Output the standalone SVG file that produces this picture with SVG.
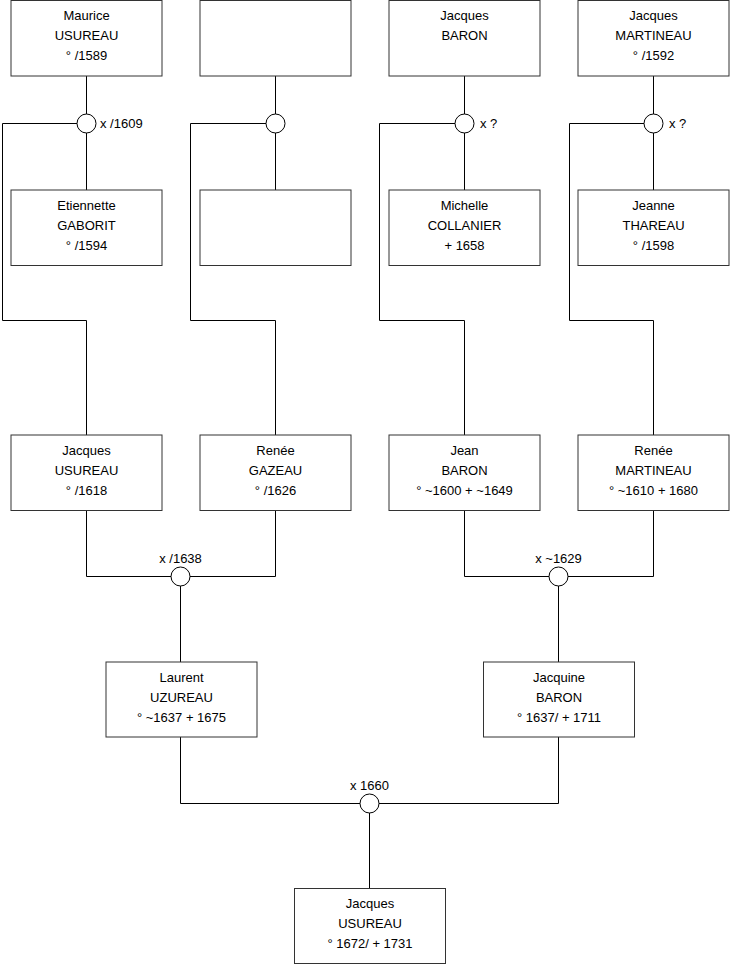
<svg xmlns="http://www.w3.org/2000/svg" width="740" height="975" viewBox="0 0 740 975">
<style>
.box{fill:#fff;stroke:#333;stroke-width:1}
.c{fill:#fff;stroke:#000;stroke-width:1}
.ln{fill:none;stroke:#000;stroke-width:1}
text{font-family:"Liberation Sans",Arial,sans-serif;font-size:13px;fill:#000}
.m{text-anchor:middle}
</style>
<rect width="740" height="975" fill="#fff"/>
<g id="connectors">
<path class="ln" d="M86.5 76V190M2.5 123.5H77M2.5 123.5V320.5H86.5V435"/>
<path class="ln" d="M275.5 76V190M190.5 123.5H266M190.5 123.5V320.5H275.5V435"/>
<path class="ln" d="M464.5 76V190M379.5 123.5H455M379.5 123.5V320.5H464.5V435"/>
<path class="ln" d="M653.5 76V190M569.5 123.5H644M569.5 123.5V320.5H653.5V435"/>
<path class="ln" d="M86.5 510V576.5H275.5V510M180.5 576.5V662"/>
<path class="ln" d="M464.5 510V576.5H653.5V510M558.5 576.5V662"/>
<path class="ln" d="M180.5 737V803.5H558.5V737M369.5 803.5V888"/>
</g>
<g id="u1"><circle class="c" cx="86.5" cy="123.5" r="9.5"/><text x="100" y="128">x /1609</text></g>
<g id="u2"><circle class="c" cx="275.5" cy="123.5" r="9.5"/></g>
<g id="u3"><circle class="c" cx="464.5" cy="123.5" r="9.5"/><text x="480" y="128">x ?</text></g>
<g id="u4"><circle class="c" cx="653.5" cy="123.5" r="9.5"/><text x="669" y="128">x ?</text></g>
<g id="u5"><circle class="c" cx="180.5" cy="576.5" r="9.5"/><text class="m" x="180.5" y="563">x /1638</text></g>
<g id="u6"><circle class="c" cx="558.5" cy="576.5" r="9.5"/><text class="m" x="558.5" y="563">x ~1629</text></g>
<g id="u7"><circle class="c" cx="369.5" cy="803.5" r="9.5"/><text class="m" x="369.5" y="790">x 1660</text></g>
<g id="p1"><rect class="box" x="11" y="0.5" width="151" height="75.5"/><text class="m" x="86.5" y="20">Maurice</text><text class="m" x="86.5" y="40">USUREAU</text><text class="m" x="86.5" y="60">° /1589</text></g>
<g id="p2"><rect class="box" x="200" y="0.5" width="151" height="75.5"/></g>
<g id="p3"><rect class="box" x="389" y="0.5" width="151" height="75.5"/><text class="m" x="464.5" y="20">Jacques</text><text class="m" x="464.5" y="40">BARON</text></g>
<g id="p4"><rect class="box" x="578" y="0.5" width="151" height="75.5"/><text class="m" x="653.5" y="20">Jacques</text><text class="m" x="653.5" y="40">MARTINEAU</text><text class="m" x="653.5" y="60">° /1592</text></g>
<g id="p5"><rect class="box" x="11" y="190" width="151" height="75.5"/><text class="m" x="86.5" y="209.5">Etiennette</text><text class="m" x="86.5" y="229.5">GABORIT</text><text class="m" x="86.5" y="249.5">° /1594</text></g>
<g id="p6"><rect class="box" x="200" y="190" width="151" height="75.5"/></g>
<g id="p7"><rect class="box" x="389" y="190" width="151" height="75.5"/><text class="m" x="464.5" y="209.5">Michelle</text><text class="m" x="464.5" y="229.5">COLLANIER</text><text class="m" x="464.5" y="249.5">+ 1658</text></g>
<g id="p8"><rect class="box" x="578" y="190" width="151" height="75.5"/><text class="m" x="653.5" y="209.5">Jeanne</text><text class="m" x="653.5" y="229.5">THAREAU</text><text class="m" x="653.5" y="249.5">° /1598</text></g>
<g id="p9"><rect class="box" x="11" y="435" width="151" height="75.5"/><text class="m" x="86.5" y="454.5">Jacques</text><text class="m" x="86.5" y="474.5">USUREAU</text><text class="m" x="86.5" y="494.5">° /1618</text></g>
<g id="p10"><rect class="box" x="200" y="435" width="151" height="75.5"/><text class="m" x="275.5" y="454.5">Renée</text><text class="m" x="275.5" y="474.5">GAZEAU</text><text class="m" x="275.5" y="494.5">° /1626</text></g>
<g id="p11"><rect class="box" x="389" y="435" width="151" height="75.5"/><text class="m" x="464.5" y="454.5">Jean</text><text class="m" x="464.5" y="474.5">BARON</text><text class="m" x="464.5" y="494.5">° ~1600 + ~1649</text></g>
<g id="p12"><rect class="box" x="578" y="435" width="151" height="75.5"/><text class="m" x="653.5" y="454.5">Renée</text><text class="m" x="653.5" y="474.5">MARTINEAU</text><text class="m" x="653.5" y="494.5">° ~1610 + 1680</text></g>
<g id="p13"><rect class="box" x="106" y="662" width="151" height="75"/><text class="m" x="181.5" y="681.5">Laurent</text><text class="m" x="181.5" y="701.5">UZUREAU</text><text class="m" x="181.5" y="721.5">° ~1637 + 1675</text></g>
<g id="p14"><rect class="box" x="483.5" y="662" width="151" height="75"/><text class="m" x="559" y="681.5">Jacquine</text><text class="m" x="559" y="701.5">BARON</text><text class="m" x="559" y="721.5">° 1637/ + 1711</text></g>
<g id="p15"><rect class="box" x="294.5" y="888.5" width="151" height="75"/><text class="m" x="370" y="908">Jacques</text><text class="m" x="370" y="928">USUREAU</text><text class="m" x="370" y="948">° 1672/ + 1731</text></g>
</svg>
